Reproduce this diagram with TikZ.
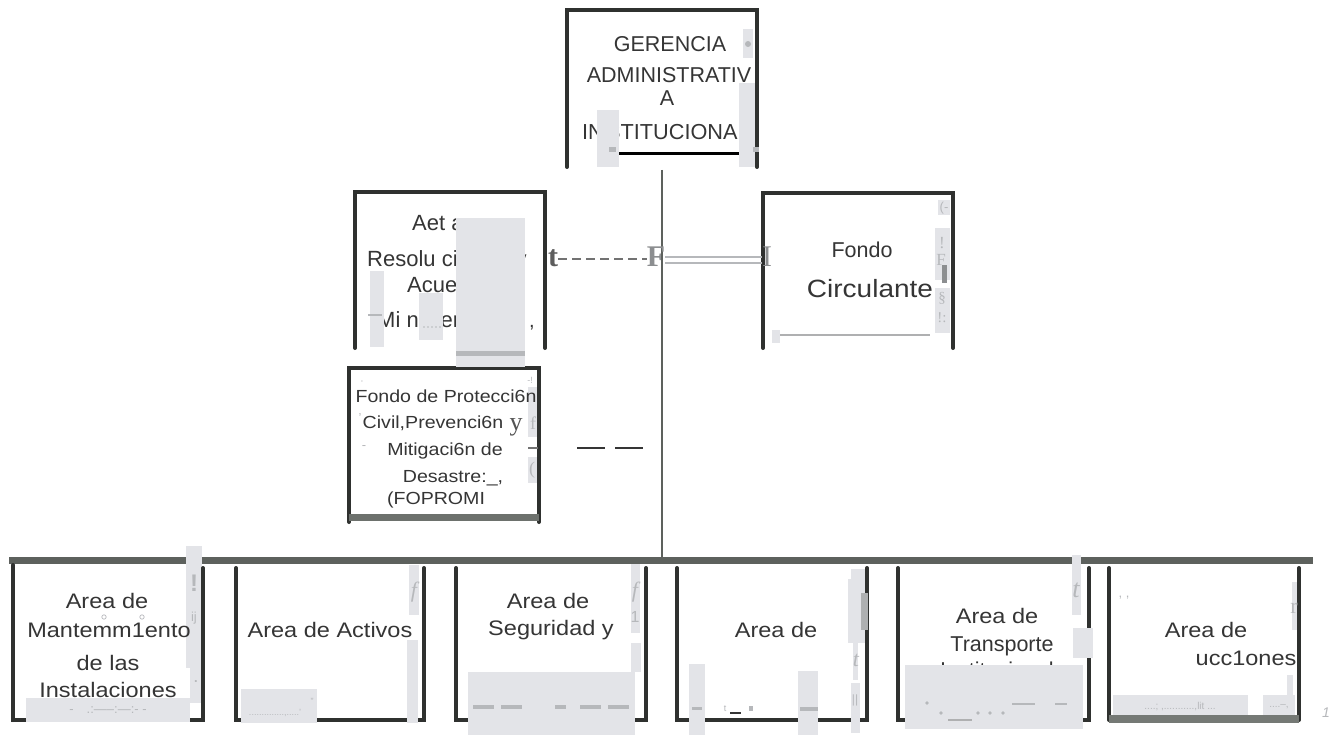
\documentclass[tikz,border=0pt]{standalone}
\usepackage{fontspec}
\setmainfont{Liberation Sans}
\newfontfamily\widesans{Liberation Sans}[FakeStretch=1.12]
\newfontfamily\scanserif{Liberation Serif}
\definecolor{ink}{HTML}{353535}
\definecolor{frameink}{HTML}{2F312F}
\definecolor{barcol}{HTML}{5D615D}
\definecolor{patchgray}{HTML}{E3E4E8}
\definecolor{faint}{HTML}{B6B8BB}
\definecolor{midgray}{HTML}{8C8E90}
\tikzset{
  frame/.style={draw=frameink, line width=4pt, line cap=round},
  boxarea/.style={rectangle, inner sep=0pt, outer sep=0pt},
  lbl/.style={inner sep=0pt, anchor=base, text=ink, font=\fontsize{21.5}{24}\selectfont},
  wlbl/.style={inner sep=0pt, anchor=base, text=ink, font=\widesans\fontsize{21}{24}\selectfont},
  slbl/.style={inner sep=0pt, anchor=base, text=ink, font=\widesans\fontsize{17.5}{20}\selectfont},
  patch/.style={fill=patchgray, draw=none},
  speck/.style={inner sep=0pt, text=faint, font=\fontsize{13}{13}\selectfont},
  sglyph/.style={inner sep=0pt, anchor=base, font=\scanserif\fontsize{30}{30}\selectfont},
}
\begin{document}
\begin{tikzpicture}[x=1pt,y=-1pt]
\useasboundingbox[fill=white] (0,0) rectangle (1333,735);

% ---------- box areas ----------
\node[boxarea, minimum width=190, minimum height=157] (gad) at (662,88.5) {};
\node[boxarea, minimum width=190, minimum height=156] (actas) at (450,270) {};
\node[boxarea, minimum width=190, minimum height=155] (fondo) at (858,270.5) {};
\node[boxarea, minimum width=190, minimum height=154] (fopromi) at (444,445) {};
\node[boxarea, minimum width=190, minimum height=152] (b1) at (108,644) {};
\node[boxarea, minimum width=188, minimum height=152] (b2) at (330,644) {};
\node[boxarea, minimum width=190, minimum height=152] (b3) at (551,644) {};
\node[boxarea, minimum width=190, minimum height=152] (b4) at (772,644) {};
\node[boxarea, minimum width=191, minimum height=152] (b5) at (993.5,644) {};
\node[boxarea, minimum width=190, minimum height=152] (b6) at (1204,644) {};

% ---------- trunk and bar ----------
\coordinate (trunktop) at (662,170);
\coordinate (trunkfoot) at (662,557);
\coordinate (barL) at (9,560);
\coordinate (barR) at (1313,560);
\draw[draw=barcol, line width=2.6pt] (trunktop) -- (trunkfoot);
\draw[draw=barcol, line width=7pt] (barL) -- (barR);

% ---------- patches lying under the lettering ----------
\fill[patch] (528,387) rectangle (537,437);
\fill[patch] (528,457) rectangle (537,483);
\fill[patch] (186,546) rectangle (202,668);
\fill[patch] (190,668) rectangle (202,703);
\fill[patch] (1292,582) rectangle (1297,630);
\fill[patch] (1287,675) rectangle (1293,697);

% ---------- texts ----------
\node[lbl] (g1) at (670,52) {GERENCIA};
\node[lbl] (g2) at (669,83) {ADMINISTRATIV};
\node[lbl] (g3) at (667,106) {A};
\node[lbl, anchor=base west, font=\fontsize{21.7}{24}\selectfont] (g4a) at (582,140) {IN};
\node[lbl, anchor=base west, font=\fontsize{21.7}{24}\selectfont] (g4b) at (606,140) {STITUCIONAL};

\node[lbl, anchor=base west, font=\fontsize{22}{24}\selectfont] (a1) at (412,231) {Aet as};
\node[lbl, anchor=base west, font=\fontsize{22}{24}\selectfont] (a2) at (367,267) {Resolu ciones};
\node[lbl, font=\fontsize{22}{24}\selectfont] (a2y) at (521,267) {y};
\node[lbl, anchor=base west, font=\fontsize{22}{24}\selectfont] (a3) at (407,293) {Acuerdos};
\node[lbl, anchor=base west, font=\fontsize{22}{24}\selectfont] (a4) at (377,327) {Mi nisteriales};

\node[lbl] (f1) at (862,258) {Fondo};
\node[lbl, font=\widesans\fontsize{25}{28}\selectfont] (f2) at (870,298) {Circulante};

\node[slbl] (p1) at (446,402) {Fondo de Protecci6n};
\node[slbl] (p2) at (433,428) {Civil,Prevenci6n};
\node[slbl] (p3) at (445,455) {Mitigaci6n de};
\node[slbl] (p4) at (453,482) {Desastre:\_,};
\node[slbl] (p5) at (436,504) {(FOPROMI};

\node[wlbl] (t1a) at (107,608) {Area de};
\node[wlbl] (t1b) at (109,637) {Mantemm1ento};
\node[wlbl] (t1c) at (108,670) {de las};
\node[wlbl] (t1d) at (108,697) {Instalaciones};
\node[wlbl] (t2a) at (330,637) {Area de Activos};
\node[wlbl] (t3a) at (548,608) {Area de};
\node[wlbl] (t3b) at (551,635) {Seguridad y};
\node[wlbl] (t4a) at (776,637) {Area de};
\node[wlbl] (t5a) at (997,623) {Area de};
\node[lbl] (t5b) at (1002,651) {Transporte};
\node[lbl] (t5c) at (997,677) {Institucional};
\node[wlbl] (t6a) at (1206,637) {Area de};
\node[wlbl] (t6b) at (1246,665) {ucc1ones};

% ---------- frames ----------
\draw[frame] (gad.south west) -- (gad.north west) -- (gad.north east) -- (gad.south east);
\draw[draw=black, line width=3pt] (618,154) -- (740,154);
\draw[frame] (actas.south west) -- (actas.north west) -- (actas.north east) -- (actas.south east);
\draw[frame] (fondo.south west) -- (fondo.north west) -- (fondo.north east) -- (fondo.south east);
\draw[frame] (fopromi.south west) -- (fopromi.north west) -- (fopromi.north east) -- (fopromi.south east);
\fill[barcol!90] ([yshift=1pt]fopromi.south west) rectangle ([yshift=8pt]fopromi.south east);
\foreach \b in {b1,b2,b3,b4,b5}{
  \draw[frame] (\b.north west) -- (\b.south west) -- (\b.south east) -- (\b.north east);
}
\draw[frame] ([yshift=3pt]b1.north west) -- (b1.south west);
\draw[frame] (b6.north west) -- (b6.south west);
\draw[frame] (b6.north east) -- (b6.south east);
\fill[barcol!85] ([yshift=5pt]b6.south west) rectangle ([yshift=-3pt]b6.south east);

% ---------- faint ruling in Fondo Circulante ----------
\draw[draw=midgray!70, line width=1.3pt] (778,335) -- (930,335);

% ---------- patches lying over the lettering ----------
\fill[patch] (597,110) rectangle (619,167);
\fill[patch] (739,83) rectangle (755,167);
\fill[patch] (743,29) rectangle (753,58);
\fill[patch] (456,218) rectangle (525,367);
\fill[patch] (370,271) rectangle (384,347);
\fill[patch] (419,293) rectangle (443,340);
\fill[patch] (938,200) rectangle (950,215);
\fill[patch] (935,228) rectangle (950,280);
\fill[patch] (935,288) rectangle (950,333);
\fill[patch] (772,330) rectangle (780,343);
\fill[patch] (1072,555) rectangle (1081,615);
\fill[patch] (26,698) rectangle (190,722);
\fill[patch] (409,565) rectangle (419,615);
\fill[patch] (407,640) rectangle (418,723);
\fill[patch] (241,689) rectangle (317,723);
\fill[patch] (631,564) rectangle (640,633);
\fill[patch] (631,643) rectangle (641,672);
\fill[patch] (468,672) rectangle (635,735);
\fill[patch] (851,569) rectangle (865,579);
\fill[patch] (848,579) rectangle (865,643);
\fill[patch] (853,643) rectangle (858,680);
\fill[patch] (851,683) rectangle (860,733);
\fill[patch] (689,664) rectangle (705,735);
\fill[patch] (798,671) rectangle (818,735);
\fill[patch] (1073,628) rectangle (1093,658);
\fill[patch] (905,665) rectangle (1083,729);
\fill[patch] (1113,695) rectangle (1248,715);
\fill[patch] (1263,695) rectangle (1295,715);

% ---------- marks inside the patches ----------
\fill[faint] (456,351) rectangle (525,356);
\fill[faint] (609,147) rectangle (616,152);
\fill[faint] (753,147) rectangle (759,152);
\fill[midgray] (942,265) rectangle (947,283);
\fill[midgray!70] (861,593) rectangle (868,630);
\foreach \xa/\xb in {473/494,501/522,555/566,580/601,608/629}{
  \fill[faint] (\xa,705) rectangle (\xb,709);
}
\fill[faint] (692,707) rectangle (702,710);
\fill[faint] (800,707) rectangle (818,711);
\fill[faint] (749,706) rectangle (753,711);
\draw[draw=ink, line width=1.4pt] (730,713) -- (741,713);
\draw[draw=faint, line width=1.6pt] (368,315) -- (382,315);
\draw[draw=midgray!70, line width=1.6pt] (948,720) -- (972,720);
\draw[draw=faint, line width=1.6pt] (1012,704) -- (1035,704);
\draw[draw=faint, line width=1.6pt] (1055,704) -- (1067,704);
\foreach \dx/\dy in {927/703,941/713,978/713,990/713,1003/713}{
  \fill[faint] (\dx,\dy) circle (1.8);
}
\foreach \dx in {424,428,432,436,440}{
  \fill[faint] (\dx,327) circle (0.9);
}
\fill[faint] (748,44) circle (3);
\draw[draw=faint, line width=0.7pt] (104,617) circle (2.2);
\draw[draw=faint, line width=0.7pt] (142,617) circle (2.2);

\node[lbl, font=\fontsize{20}{20}\selectfont] (m2) at (532,327) {,};
\node[speck] (m3) at (944,208) {(-};
\node[speck, font=\scanserif\fontsize{17}{17}\selectfont] (m4) at (942,243) {!};
\node[speck, font=\scanserif\fontsize{17}{17}\selectfont] (m5) at (941,260) {F};
\node[speck, font=\scanserif\fontsize{15}{15}\selectfont] (m6) at (942,298) {\S};
\node[speck, font=\scanserif\fontsize{15}{15}\selectfont] (m7) at (942,318) {!:};
\node[speck] (m8) at (362,382) {$\cdot$};
\node[speck, font=\fontsize{9}{9}\selectfont] (m9) at (530,380) {-!};
\node[speck] (m10) at (360,418) {'};
\node[speck] (m11) at (364,448) {-};
\node[sglyph, text=ink!85, font=\scanserif\fontsize{26}{26}\selectfont] (m12) at (516,430) {y};
\node[speck, font=\scanserif\fontsize{18}{18}\selectfont] (m13) at (533,423) {f};
\node[speck, font=\scanserif\fontsize{18}{18}\selectfont] (m14) at (532,470) {(};
\draw[draw=ink!70, line width=1.5pt] (528,448) -- (538,448);
\node[speck, font=\bfseries\fontsize{24}{24}\selectfont] (m15) at (194,583) {!};
\node[speck] (m16) at (194,618) {ij};
\node[speck] (m17) at (196,682) {\textbf{.}};
\node[speck] (m20) at (108,710) {-\quad .:-----:---:- -};
\node[speck, font=\scanserif\itshape\fontsize{22}{22}\selectfont] (m21) at (414,592) {f};
\node[speck, font=\fontsize{9}{9}\selectfont] (m22) at (312,701) {"};
\node[speck, font=\fontsize{9}{9}\selectfont] (m23) at (275,713) {..............,.....'};
\node[speck, font=\scanserif\itshape\fontsize{22}{22}\selectfont] (m24) at (635,592) {f};
\node[speck, font=\fontsize{16}{16}\selectfont] (m25) at (635,617) {1};
\node[speck, font=\scanserif\itshape\fontsize{22}{22}\selectfont] (m26) at (856,660) {t};
\node[speck, font=\fontsize{12}{12}\selectfont] (m27) at (855,700) {||};
\node[speck, font=\fontsize{9}{9}\selectfont] (m28) at (725,709) {t};
\node[speck, font=\scanserif\itshape\fontsize{26}{26}\selectfont] (m29) at (1076,590) {t};
\node[speck] (m30) at (1124,598) {, ,};
\node[speck, font=\scanserif\fontsize{22}{22}\selectfont] (m31) at (1294,608) {r};
\node[speck, font=\fontsize{10}{10}\selectfont] (m32) at (1180,707) {....; ,...........,lit ...};
\node[speck, font=\fontsize{10}{10}\selectfont] (m33) at (1279,707) {....--,};
\node[speck, font=\itshape\fontsize{14}{14}\selectfont] (m34) at (1326,713) {1};

% ---------- broken link between Actas and Fondo Circulante ----------
\node[sglyph, text=ink!80, font=\scanserif\bfseries\fontsize{30}{30}\selectfont] (tglyph) at (553,267) {t};
\node[sglyph, text=midgray, font=\scanserif\bfseries\fontsize{30}{30}\selectfont] (Fglyph) at (656,267) {F};
\node[sglyph, text=midgray] (Iglyph) at (767,267) {I};
\draw[draw=ink!70, line width=1.6pt, dash pattern=on 9pt off 5pt] (tglyph.east |- 0,259) -- (Fglyph.west |- 0,259);
\draw[draw=faint, line width=1.5pt] (Fglyph.east |- 0,257) -- (Iglyph.west |- 0,257);
\draw[draw=faint, line width=1.5pt] (Fglyph.east |- 0,263) -- (Iglyph.west |- 0,263);

% ---------- dashed stub beside FOPROMI ----------
\coordinate (stubA) at (577,448);
\coordinate (stubB) at (643,448);
\draw[draw=ink, line width=1.8pt, dash pattern=on 28pt off 10pt] (stubA) -- (stubB);
\end{tikzpicture}
\end{document}
